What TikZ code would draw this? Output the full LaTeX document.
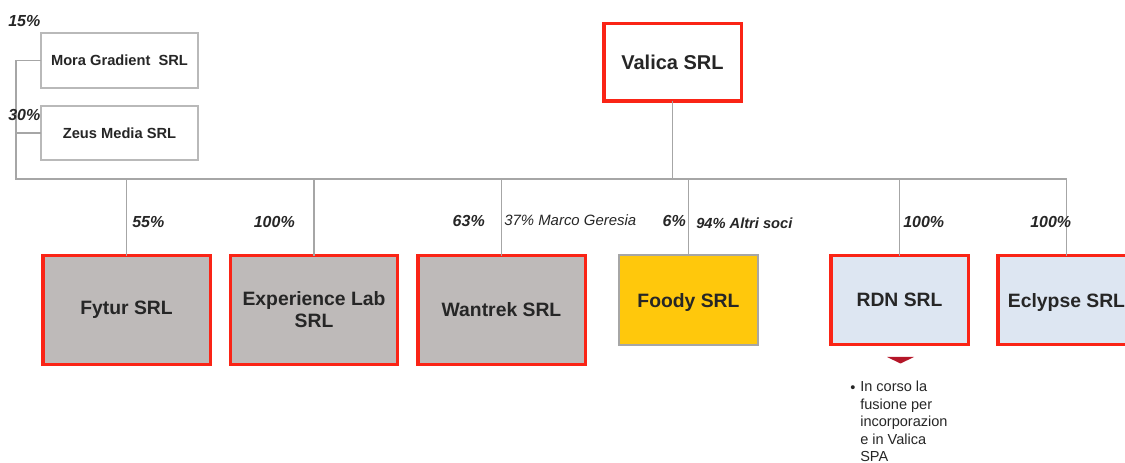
\documentclass[tikz,border=0pt]{standalone}
\usepackage{fontspec}
\setmainfont{Liberation Sans}
\definecolor{boxred}{RGB}{250,36,22}
\definecolor{boxgray}{RGB}{190,186,185}
\definecolor{boxblue}{RGB}{221,230,242}
\definecolor{boxyellow}{RGB}{255,200,12}
\definecolor{thinborder}{RGB}{185,185,185}
\definecolor{linegray}{RGB}{166,166,166}
\definecolor{txt}{RGB}{38,38,38}
\definecolor{tri}{RGB}{180,22,40}
\tikzset{
  redbox/.style={draw=boxred, line width=2.6pt, inner sep=0pt, outer sep=0pt,
    align=center, text=txt, font=\bfseries\fontsize{14.5}{16.5}\selectfont},
  thinbox/.style={draw=thinborder, line width=0.8pt, inner sep=0pt, outer sep=0pt,
    align=center, text=txt},
  smallbold/.style={font=\bfseries\fontsize{11}{13}\selectfont},
  pct/.style={inner sep=0pt, text=txt, font=\bfseries\itshape\fontsize{12}{14}\selectfont},
  pctsmall/.style={inner sep=0pt, text=txt, font=\bfseries\itshape\fontsize{11}{13}\selectfont},
  pctreg/.style={inner sep=0pt, text=txt, font=\itshape\fontsize{11.2}{13}\selectfont},
  conn/.style={draw=linegray, line width=0.8pt},
}
\begin{document}
\begin{tikzpicture}[x=0.75pt,y=-0.75pt]
\useasboundingbox (0,0) rectangle (1125,463);
% top boxes
\node[redbox, fill=white, minimum width=103.1pt, minimum height=58.1pt, font=\bfseries\fontsize{15}{17}\selectfont] (valica) at (672.5,62.5) {Valica SRL};
\node[thinbox, smallbold, fill=white, minimum width=117.75pt, minimum height=41.25pt] (mora) at (119.5,60.5) {Mora Gradient\ \ SRL};
\node[thinbox, smallbold, fill=white, minimum width=117.75pt, minimum height=40.5pt] (zeus) at (119.5,133) {Zeus Media SRL};
% bottom boxes
\node[redbox, fill=boxgray, minimum width=125.6pt, minimum height=81.4pt] (fytur) at (126.5,310) {Fytur SRL};
\node[redbox, fill=boxgray, minimum width=124.9pt, minimum height=81.4pt] (exp) at (314,310) {Experience Lab\\SRL};
\node[redbox, fill=boxgray, minimum width=125.6pt, minimum height=81.4pt] (wantrek) at (501.5,310) {Wantrek SRL};
\node[thinbox, fill=boxyellow, draw=linegray, minimum width=104.25pt, minimum height=67.5pt, text depth=0pt, font=\bfseries\fontsize{14.5}{16.5}\selectfont] (foody) at (688.5,300) {Foody SRL};
\node[redbox, fill=boxblue, minimum width=103.1pt, minimum height=66.4pt] (rdn) at (899.5,300) {RDN SRL};
\node[redbox, fill=boxblue, minimum width=103.1pt, minimum height=66.4pt, text depth=0pt] (eclypse) at (1066.5,300) {Eclypse SRL};
% bus
\coordinate (busL) at (16,179);
\coordinate (busR) at (1066.5,179);
\draw[conn] (mora.west) -- (mora.west -| busL) -- (busL) -- (busR) -- (eclypse.north);
\draw[conn] (zeus.west) -- (zeus.west -| busL);
\draw[conn] (valica.south) -- (valica.south |- busL);
\draw[conn] (fytur.north) -- (fytur.north |- busL);
\draw[conn] (exp.north) -- (exp.north |- busL);
\draw[conn] (wantrek.north) -- (wantrek.north |- busL);
\draw[conn] (foody.north) -- (foody.north |- busL);
\draw[conn] (rdn.north) -- (rdn.north |- busL);
% percentages
\node[pct, anchor=west] (p15) at (8,21) {15\%};
\node[pct, anchor=west] (p30) at (8,114.5) {30\%};
\node[pct, anchor=west] (p55) at (132,222) {55\%};
\node[pct, anchor=east] (p100a) at (295,222) {100\%};
\node[pct, anchor=east] (p63) at (485,221) {63\%};
\node[pctreg, anchor=west] (p37) at (504,220) {37\% Marco Geresia};
\node[pct, anchor=east] (p6) at (686,221) {6\%};
\node[pctsmall, anchor=west] (p94) at (696,223) {94\% Altri soci};
\node[pct, anchor=west] (p100b) at (903,222) {100\%};
\node[pct, anchor=west] (p100c) at (1030,222) {100\%};
% triangle and note
\fill[tri] (887,357) -- (914,357) -- (900.5,363.5) -- cycle;
\node[inner sep=0pt, text=txt, font=\fontsize{10.9}{13.1}\selectfont] (bul) at (853,389.5) {•};
\node[inner sep=0pt, anchor=north west, align=left, text=txt, font=\fontsize{10.9}{13.1}\selectfont] (note) at (860,381) {In corso la\\fusione per\\incorporazion\\e in Valica\\SPA};
\end{tikzpicture}
\end{document}
